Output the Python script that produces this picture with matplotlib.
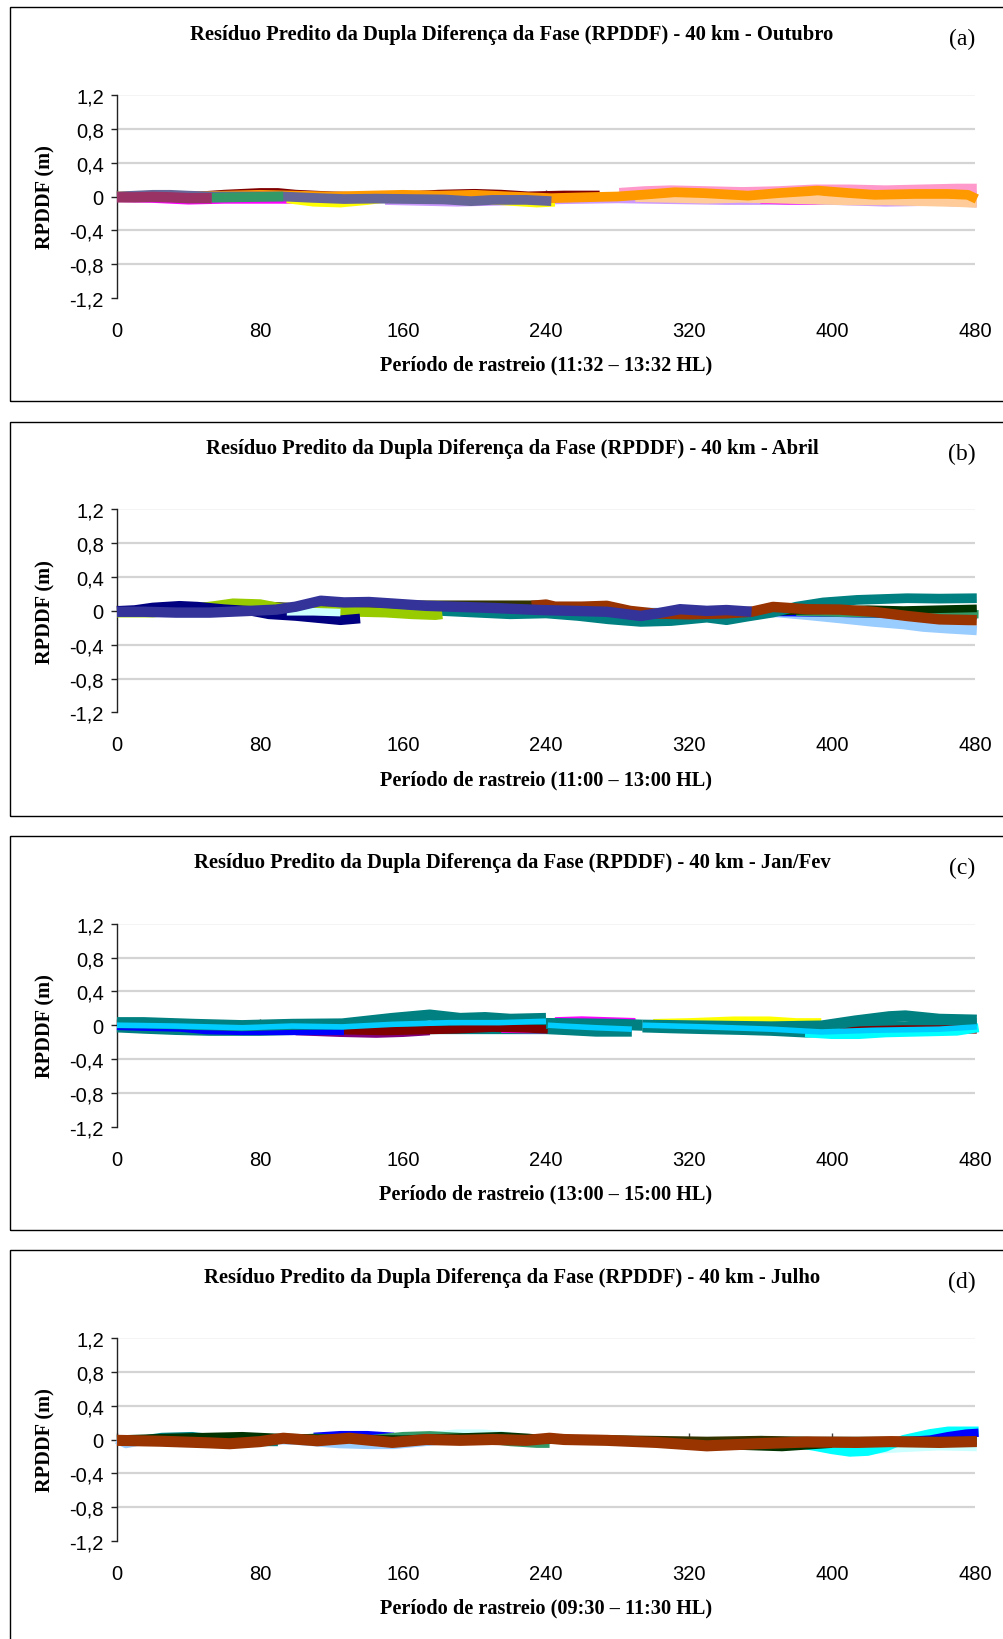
import matplotlib
matplotlib.use("Agg")
import matplotlib.pyplot as plt
from matplotlib.patches import Rectangle

# ---------------------------------------------------------------- axes data
x_ticks = [0, 80, 160, 240, 320, 400, 480]
x_tick_labels = ["0", "80", "160", "240", "320", "400", "480"]
y_ticks = [-1.2, -0.8, -0.4, 0.0, 0.4, 0.8, 1.2]
y_tick_labels = ["-1,2", "-0,8", "-0,4", "0", "0,4", "0,8", "1,2"]
grid_levels = [0.8, 0.4, 0.0, -0.4, -0.8]

panel_titles = [
    "Resíduo Predito da Dupla Diferença da Fase (RPDDF) - 40 km - Outubro",
    "Resíduo Predito da Dupla Diferença da Fase (RPDDF) - 40 km - Abril",
    "Resíduo Predito da Dupla Diferença da Fase (RPDDF) - 40 km - Jan/Fev",
    "Resíduo Predito da Dupla Diferença da Fase (RPDDF) - 40 km - Julho",
]
panel_tags = ["(a)", "(b)", "(c)", "(d)"]
panel_xlabels = [
    "Período de rastreio (11:32 – 13:32 HL)",
    "Período de rastreio (11:00 – 13:00 HL)",
    "Período de rastreio (13:00 – 15:00 HL)",
    "Período de rastreio (09:30 – 11:30 HL)",
]

# ---------------------------------------------------------------- (a) Outubro
a_lav_t = [150, 170, 190, 210, 230, 250, 280, 310, 340, 370, 400, 430, 460, 481]
a_lav_v = [-0.05, -0.06, -0.07, -0.06, -0.05, -0.04, -0.03, -0.04, -0.05, -0.05, -0.05, -0.07, -0.06, -0.08]
a_mag1_t = [0, 20, 40, 60, 80, 100, 120, 140]
a_mag1_v = [-0.02, -0.03, -0.05, -0.04, -0.04, -0.04, -0.03, -0.03]
a_mag2_t = [360, 375, 390, 400]
a_mag2_v = [-0.04, -0.05, -0.05, -0.04]
a_peach_t = [290, 310, 330, 350, 370, 390, 410, 430, 450, 470, 481]
a_peach_v = [-0.01, -0.02, -0.03, -0.02, -0.03, -0.04, -0.05, -0.05, -0.06, -0.07, -0.08]
a_pink_t = [281, 295, 310, 330, 350, 370, 390, 410, 430, 450, 470, 481]
a_pink_v = [0.04, 0.06, 0.07, 0.06, 0.05, 0.06, 0.08, 0.08, 0.07, 0.08, 0.09, 0.09]
a_dred_t = [40, 60, 80, 90, 100, 120, 140, 160, 180, 200, 215, 230, 250, 270]
a_dred_v = [0.0, 0.03, 0.05, 0.05, 0.03, 0.01, 0.0, 0.01, 0.03, 0.04, 0.03, 0.01, 0.02, 0.02]
a_yel_t = [95, 110, 125, 140, 155, 165, 180, 200, 220, 235, 245]
a_yel_v = [-0.03, -0.07, -0.08, -0.05, -0.01, 0.02, 0.0, -0.03, -0.06, -0.08, -0.07]
a_orange_t = [0, 20, 40, 60, 80, 100, 120, 140, 160, 180, 200, 220, 243, 260, 280, 300,
              312, 328, 353, 370, 392, 410, 424, 446, 465, 476, 481]
a_orange_v = [0.0, 0.01, 0.0, 0.01, 0.02, 0.01, 0.0, 0.01, 0.02, 0.01, 0.02, 0.0, -0.02, -0.01,
              0.0, 0.03, 0.05, 0.04, 0.01, 0.04, 0.07, 0.04, 0.02, 0.03, 0.03, 0.02, -0.03]
a_slate_t = [0, 10, 20, 30, 40, 53, 70, 93, 108, 127, 145, 164, 183, 198, 210, 229, 243]
a_slate_v = [0.0, 0.01, 0.02, 0.02, 0.01, 0.0, 0.0, 0.0, -0.015, -0.03, -0.025, -0.03,
             -0.035, -0.055, -0.04, -0.04, -0.055]
a_green_t = [53, 65, 80, 93]
a_green_v = [-0.015, -0.01, -0.005, 0.0]
a_plum_t = [0, 10, 20, 30, 40, 53]
a_plum_v = [-0.01, -0.01, -0.005, -0.01, -0.02, -0.02]

# ---------------------------------------------------------------- (b) Abril
b_lblue_t = [255, 275, 300, 330, 355, 370, 386, 405, 423, 440, 451, 465, 481]
b_lblue_v = [0.0, -0.01, -0.02, -0.02, -0.01, -0.02, -0.05, -0.09, -0.13, -0.16, -0.19, -0.21, -0.23]
b_blue_t = [0, 40, 80, 120, 160, 200, 240, 280, 300, 330, 360, 400, 440, 481]
b_blue_v = [0.0, 0.02, 0.0, 0.02, 0.0, -0.01, -0.02, -0.05, -0.07, -0.05, -0.04, -0.05, -0.07, -0.08]
b_sea_t = [380, 400, 420, 440, 460, 482]
b_sea_v = [-0.01, -0.02, -0.03, -0.03, -0.03, -0.04]
b_dgreen_t = [240, 260, 280, 300, 320, 340, 360, 380, 400, 420, 440, 460, 481]
b_dgreen_v = [0.05, 0.03, 0.01, -0.02, -0.04, -0.04, -0.02, 0.0, 0.01, 0.02, 0.01, 0.02, 0.03]
b_teal_t = [180, 200, 220, 240, 258, 275, 293, 310, 330, 341, 352, 367, 380, 395, 414, 442, 460, 481]
b_teal_v = [0.0, -0.02, -0.04, -0.03, -0.06, -0.10, -0.13, -0.12, -0.08, -0.11, -0.07, -0.02,
            0.05, 0.10, 0.13, 0.15, 0.145, 0.15]
b_olive_t = [0, 20, 40, 60, 80, 100, 120, 140, 160, 200, 240]
b_olive_v = [0.0, 0.01, 0.03, 0.06, 0.06, 0.04, 0.06, 0.08, 0.07, 0.07, 0.07]
b_ygreen_t = [0, 20, 40, 55, 65, 80, 90, 100, 112, 130, 150, 165, 178, 182]
b_ygreen_v = [-0.02, -0.02, 0.02, 0.06, 0.09, 0.08, 0.04, 0.01, 0.0, -0.01, -0.02, -0.04, -0.05, -0.04]
b_navy_t = [0, 10, 20, 35, 45, 60, 75, 85, 100, 115, 125, 136]
b_navy_v = [0.0, 0.01, 0.04, 0.06, 0.05, 0.02, 0.0, -0.04, -0.06, -0.09, -0.11, -0.09]
b_lcyan_t = [95, 110, 125]
b_lcyan_v = [-0.01, -0.01, -0.02]
b_brown_t = [232, 240, 245, 260, 274, 287, 300, 320, 340, 355, 367, 386, 404, 423, 442, 460, 481]
b_brown_v = [0.06, 0.075, 0.05, 0.05, 0.06, 0.0, -0.03, -0.04, -0.03, -0.01, 0.047, 0.02, 0.016,
             -0.01, -0.06, -0.10, -0.11]
b_indigo_t = [0, 15, 33, 52, 74, 89, 100, 114, 127, 141, 154, 173, 192, 210, 237, 256, 274,
              293, 302, 315, 330, 341, 355]
b_indigo_v = [-0.01, -0.01, -0.02, -0.02, 0.0, 0.015, 0.05, 0.12, 0.10, 0.105, 0.087, 0.06,
              0.047, 0.035, 0.01, 0.0, -0.01, -0.06, -0.03, 0.02, 0.0, 0.01, -0.01]

# ---------------------------------------------------------------- (c) Jan/Fev
c_tealB_t = [0, 15, 33, 52, 80, 100, 126, 150, 180, 210, 240, 250, 268, 288]
c_tealB_v = [-0.02, -0.035, -0.05, -0.06, -0.06, -0.05, -0.05, -0.04, -0.04, -0.04, -0.04, -0.05, -0.07, -0.07]
c_tealE_t = [294, 310, 329, 350, 366, 385, 404, 423, 441, 460, 481]
c_tealE_v = [-0.02, -0.03, -0.04, -0.05, -0.06, -0.08, -0.07, -0.02, -0.02, 0.0, 0.02]
c_purple_t = [100, 125, 145, 160, 175]
c_purple_v = [-0.07, -0.09, -0.10, -0.09, -0.07]
c_mag1_t = [215, 228, 240]
c_mag1_v = [-0.05, -0.055, -0.055]
c_dred1_t = [126, 150, 170, 190, 210, 230, 241]
c_dred1_v = [-0.06, -0.07, -0.06, -0.05, -0.03, -0.04, -0.05]
c_dred2_t = [394, 420, 440, 460, 481]
c_dred2_v = [-0.08, -0.06, -0.05, -0.05, -0.05]
c_blue_t = [0, 15, 35, 50, 70, 90, 110, 127]
c_blue_v = [0.0, -0.01, -0.02, -0.05, -0.06, -0.06, -0.06, -0.06]
c_mag2_t = [245, 260, 275, 290]
c_mag2_v = [0.05, 0.06, 0.05, 0.04]
c_yel_t = [300, 320, 345, 365, 380, 394]
c_yel_v = [0.02, 0.03, 0.05, 0.05, 0.03, 0.03]
c_cyan_t = [385, 400, 415, 430, 450, 470, 482]
c_cyan_v = [-0.09, -0.11, -0.11, -0.09, -0.08, -0.07, -0.03]
c_tealA_t = [0, 15, 43, 70, 98, 126, 154, 175, 192, 206, 220, 240]
c_tealA_v = [0.03, 0.03, 0.01, -0.005, 0.01, 0.015, 0.08, 0.12, 0.08, 0.09, 0.07, 0.08]
c_tealC_t = [240, 260, 280, 294]
c_tealC_v = [0.02, 0.015, 0.01, 0.0]
c_tealD_t = [294, 329, 366, 394, 413, 432, 441, 460, 481]
c_tealD_v = [0.0, -0.01, -0.02, -0.01, 0.05, 0.10, 0.11, 0.07, 0.06]
c_sky1_t = [0, 33, 70, 98, 126, 154, 186, 214, 240]
c_sky1_v = [0.0, -0.01, -0.03, -0.01, -0.02, 0.01, 0.03, 0.03, 0.047]
c_sky2_t = [241, 249, 268, 288]
c_sky2_v = [0.0, -0.01, -0.03, -0.047]
c_sky3_t = [294, 329, 366, 394, 423, 460, 481]
c_sky3_v = [0.0, -0.02, -0.047, -0.08, -0.06, -0.047, -0.02]

# ---------------------------------------------------------------- (d) Julho
d_lcyan1_t = [175, 190, 205, 220]
d_lcyan1_v = [0.04, 0.07, 0.07, 0.04]
d_lcyan2_t = [395, 410, 425, 440, 460, 481]
d_lcyan2_v = [-0.06, -0.10, -0.12, -0.10, -0.08, -0.09]
d_cyan_t = [360, 375, 390, 400, 410, 420, 430, 440, 455, 465, 482]
d_cyan_v = [-0.01, -0.03, -0.08, -0.12, -0.15, -0.14, -0.09, 0.0, 0.07, 0.10, 0.10]
d_lblue_t = [0, 5, 15, 44, 63, 80, 100, 124, 140, 155, 165, 180]
d_lblue_v = [0.0, -0.05, -0.01, 0.02, 0.01, 0.0, -0.01, -0.05, -0.06, -0.06, -0.04, -0.01]
d_blue1_t = [110, 125, 140, 155]
d_blue1_v = [0.04, 0.06, 0.06, 0.04]
d_blue2_t = [440, 455, 465, 475, 482]
d_blue2_v = [-0.02, 0.0, 0.04, 0.07, 0.08]
d_teal_t = [15, 25, 42, 60, 75, 90]
d_teal_v = [0.0, 0.03, 0.04, 0.0, -0.03, -0.03]
d_sea_t = [95, 110, 140, 160, 175, 200, 220, 235, 242]
d_sea_v = [0.0, 0.02, 0.0, 0.04, 0.05, 0.02, -0.03, -0.05, -0.05]
d_dgreen_t = [0, 30, 50, 70, 90, 120, 160, 200, 215, 230, 240]
d_dgreen_v = [0.0, 0.02, 0.03, 0.04, 0.02, 0.01, 0.0, 0.03, 0.04, 0.02, 0.0]
d_dgreen2_t = [300, 330, 358, 372, 386, 400]
d_dgreen2_v = [-0.03, -0.06, -0.08, -0.09, -0.07, -0.05]
d_olive_t = [240, 270, 300, 330, 360, 390, 420, 450, 481]
d_olive_v = [0.0, 0.0, -0.01, -0.02, -0.01, -0.02, -0.02, -0.02, -0.02]
d_brown_t = [0, 24, 52, 63, 80, 93, 112, 130, 154, 173, 192, 210, 229, 242, 250, 274, 302,
             330, 358, 386, 414, 433, 460, 481]
d_brown_v = [-0.01, -0.02, -0.04, -0.05, -0.025, 0.015, -0.015, 0.015, -0.035, 0.0, -0.01, 0.0,
             -0.01, 0.015, 0.0, -0.01, -0.035, -0.075, -0.05, -0.03, -0.035, -0.025, -0.035, -0.024]

# series drawn bottom to top: (times, values, colour, width in points)
panel_series = [
    [
        (a_lav_t, a_lav_v, "#CC99FF", 6.0),
        (a_mag1_t, a_mag1_v, "#FF00FF", 5.5),
        (a_mag2_t, a_mag2_v, "#FF00FF", 5.5),
        (a_peach_t, a_peach_v, "#FFCC99", 6.5),
        (a_pink_t, a_pink_v, "#FF99CC", 7.5),
        (a_yel_t, a_yel_v, "#FFFF00", 6.0),
        (a_dred_t, a_dred_v, "#800000", 6.0),
        (a_orange_t, a_orange_v, "#FF9900", 7.0),
        (a_slate_t, a_slate_v, "#666699", 7.0),
        (a_green_t, a_green_v, "#339966", 7.0),
        (a_plum_t, a_plum_v, "#993366", 7.5),
    ],
    [
        (b_lblue_t, b_lblue_v, "#99CCFF", 7.0),
        (b_blue_t, b_blue_v, "#0000FF", 2.5),
        (b_sea_t, b_sea_v, "#339966", 6.0),
        (b_dgreen_t, b_dgreen_v, "#003300", 5.5),
        (b_teal_t, b_teal_v, "#008080", 7.0),
        (b_olive_t, b_olive_v, "#333300", 6.5),
        (b_ygreen_t, b_ygreen_v, "#99CC00", 7.0),
        (b_navy_t, b_navy_v, "#000080", 7.0),
        (b_lcyan_t, b_lcyan_v, "#CCFFFF", 5.5),
        (b_brown_t, b_brown_v, "#993300", 7.5),
        (b_indigo_t, b_indigo_v, "#333399", 7.5),
    ],
    [
        (c_tealB_t, c_tealB_v, "#008080", 8.0),
        (c_tealE_t, c_tealE_v, "#008080", 8.0),
        (c_purple_t, c_purple_v, "#800080", 6.0),
        (c_mag1_t, c_mag1_v, "#FF00FF", 5.0),
        (c_dred1_t, c_dred1_v, "#800000", 6.0),
        (c_dred2_t, c_dred2_v, "#800000", 6.0),
        (c_blue_t, c_blue_v, "#0000FF", 7.0),
        (c_mag2_t, c_mag2_v, "#FF00FF", 5.5),
        (c_yel_t, c_yel_v, "#FFFF00", 6.5),
        (c_cyan_t, c_cyan_v, "#00FFFF", 6.5),
        (c_tealA_t, c_tealA_v, "#008080", 8.0),
        (c_tealC_t, c_tealC_v, "#008080", 8.0),
        (c_tealD_t, c_tealD_v, "#008080", 8.0),
        (c_sky1_t, c_sky1_v, "#00CCFF", 4.0),
        (c_sky2_t, c_sky2_v, "#00CCFF", 4.0),
        (c_sky3_t, c_sky3_v, "#00CCFF", 4.0),
    ],
    [
        (d_lcyan1_t, d_lcyan1_v, "#CCFFFF", 6.0),
        (d_lcyan2_t, d_lcyan2_v, "#CCFFFF", 6.0),
        (d_cyan_t, d_cyan_v, "#00FFFF", 6.5),
        (d_lblue_t, d_lblue_v, "#99CCFF", 6.5),
        (d_blue1_t, d_blue1_v, "#0000FF", 5.0),
        (d_blue2_t, d_blue2_v, "#0000FF", 6.0),
        (d_teal_t, d_teal_v, "#008080", 6.0),
        (d_sea_t, d_sea_v, "#339966", 6.0),
        (d_dgreen_t, d_dgreen_v, "#003300", 6.0),
        (d_dgreen2_t, d_dgreen2_v, "#003300", 6.0),
        (d_olive_t, d_olive_v, "#333300", 6.5),
        (d_brown_t, d_brown_v, "#993300", 8.0),
    ],
]

# ---------------------------------------------------------------- layout (pixels)
W, H = 1004, 1640
panel_top = [8.3, 422.7, 837.0, 1251.3]
frame_h = 394.0
ax_left, ax_right = 117.0, 975.0
ax_top_off, ax_bot_off = 87.7, 290.7

SERIF = ["Liberation Serif", "DejaVu Serif"]
SANS = ["Liberation Sans", "DejaVu Sans"]

fig = plt.figure(figsize=(W / 100, H / 100), dpi=100)
fig.patch.set_facecolor("white")


def fx(px):
    return px / W


def fy(py):
    return 1 - py / H


for i, top in enumerate(panel_top):
    # panel frame
    fig.add_artist(Rectangle((fx(9.5), fy(top + frame_h)), fx(W + 10 - 9.5), frame_h / H,
                             transform=fig.transFigure, fill=False, lw=1.0,
                             ec="black", zorder=0))

    ax = fig.add_axes([fx(ax_left), fy(top + ax_bot_off),
                       (ax_right - ax_left) / W, (ax_bot_off - ax_top_off) / H])
    ax.set_xlim(0, 480)
    ax.set_ylim(-1.2, 1.2)
    ax.patch.set_alpha(0)

    for s in ("top", "right", "bottom"):
        ax.spines[s].set_visible(False)
    ax.spines["left"].set_color("#222222")
    ax.spines["left"].set_linewidth(1.0)

    for g in grid_levels:
        ax.axhline(g, color="#d4d4d4", lw=1.6, zorder=1)
    ax.axhline(1.2, color="#f2f2f2", lw=1.2, zorder=1)

    ax.set_yticks(y_ticks)
    ax.set_yticklabels(y_tick_labels, fontfamily=SANS, fontsize=14.5)
    ax.tick_params(axis="y", direction="out", length=4.5, width=1.0,
                   color="#222222", pad=5)

    ax.set_xticks(x_ticks)
    ax.set_xticklabels(x_tick_labels, fontfamily=SANS, fontsize=14.5)
    ax.tick_params(axis="x", length=0, pad=16.5)

    # tick marks along the zero line
    zx = ax.secondary_xaxis(0.5)
    zx.set_xticks(x_ticks)
    zx.tick_params(axis="x", direction="out", length=4, width=1.0, color="#444444",
                   labelbottom=False, labeltop=False)
    zx.spines["bottom"].set_visible(False)
    zx.spines["top"].set_visible(False)
    zx.set_xticklabels([])

    for k, (t, v, col, lw) in enumerate(panel_series[i]):
        ax.plot(t, v, color=col, lw=lw, solid_capstyle="butt",
                solid_joinstyle="round", clip_on=False, zorder=3 + k * 0.01)

    fig.text(fx(512), fy(top + 26.5), panel_titles[i], ha="center", va="center",
             fontfamily=SERIF, fontweight="bold", fontsize=14.9)
    fig.text(fx(962), fy(top + 31.5), panel_tags[i], ha="center", va="center",
             fontfamily=SERIF, fontsize=17)
    fig.text(fx(45), fy(top + 189.2), "RPDDF (m)", ha="center", va="center",
             rotation=90, fontfamily=SERIF, fontweight="bold", fontsize=14.7)
    fig.text(fx(546), fy(top + 357.5), panel_xlabels[i], ha="center", va="center",
             fontfamily=SERIF, fontweight="bold", fontsize=14.6)

fig.savefig("out.png", dpi=100, facecolor="white")
